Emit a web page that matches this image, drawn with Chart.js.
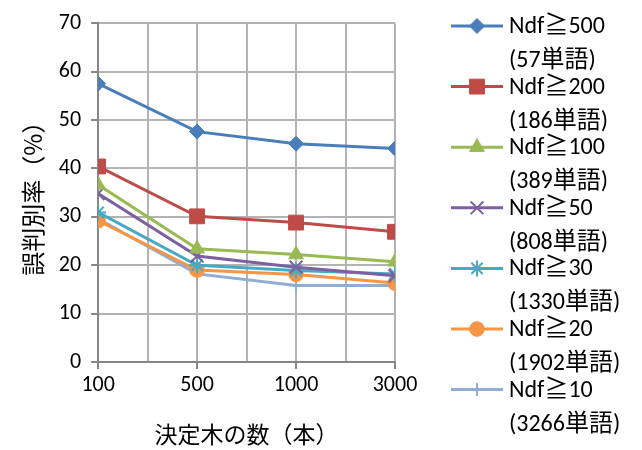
<!DOCTYPE html>
<html>
<head>
<meta charset="utf-8">
<script src="https://cdn.jsdelivr.net/npm/chart.js@4"></script>
<style>
  html, body { margin: 0; padding: 0; background: #fff; }
  #wrap { width: 642px; height: 450px; }
</style>
</head>
<body>
<div id="wrap"><canvas id="myChart" width="642" height="450"></canvas></div>
<script>
// categories (number of trees)
var categories = ['100', '500', '1000', '3000'];

// error rate (%) per Ndf threshold
var ndf500 = [57.5, 47.6, 45.1, 44.1];
var ndf200 = [40.4, 30.1, 28.8, 26.9];
var ndf100 = [36.6, 23.4, 22.2, 20.7];
var ndf50  = [34.8, 21.9, 19.6, 17.8];
var ndf30  = [30.9, 20.0, 18.9, 18.2];
var ndf20  = [29.2, 19.0, 18.1, 16.3];
var ndf10  = [29.6, 18.2, 15.8, 15.8];

var names = ['Ndf≧500', 'Ndf≧200', 'Ndf≧100', 'Ndf≧50', 'Ndf≧30', 'Ndf≧20', 'Ndf≧10'];
var wordCounts = ['(57単語)', '(186単語)', '(389単語)', '(808単語)', '(1330単語)', '(1902単語)', '(3266単語)'];
var yTicks = [0, 10, 20, 30, 40, 50, 60, 70];
var xGrid = [0, 0.5, 1, 1.5, 2, 2.5, 3];

var colors = ['#4a7ebb', '#be4b48', '#98b954', '#7d60a0', '#46aac5', '#f69544', '#91add3'];
var markers = ['rectRot', 'rect', 'triangle', 'crossRot', 'star', 'circle', 'cross'];
var radii = [7.5, 10.5, 8.5, 9, 8, 7.3, 6.5];
var thin = [false, false, false, true, true, false, true];
var series = [ndf500, ndf200, ndf100, ndf50, ndf30, ndf20, ndf10];

var latin = "Carlito, Lato, 'Noto Sans CJK JP', sans-serif";
var cjk = "'Noto Sans CJK JP', sans-serif";

var datasets = series.map(function(vals, i) {
    return {
        label: names[i],
        data: vals.map(function(v, j) { return { x: j, y: v }; }),
        borderColor: colors[i],
        backgroundColor: colors[i],
        borderWidth: 3,
        pointStyle: markers[i],
        pointRadius: radii[i],
        pointBorderWidth: thin[i] ? 2 : 1,
        pointBorderColor: colors[i],
        pointBackgroundColor: colors[i],
        tension: 0
    };
});

// legend drawn on the right, two lines per entry
var sideLegend = {
    id: 'sideLegend',
    afterDraw: function(chart) {
        var ctx = chart.ctx;
        ctx.save();
        ctx.font = '24px ' + latin;
        ctx.textBaseline = 'middle';
        ctx.textAlign = 'left';
        for (var i = 0; i < names.length; i++) {
            var y = 26 + i * 60.6;
            ctx.strokeStyle = colors[i];
            ctx.lineWidth = 3;
            ctx.beginPath();
            ctx.moveTo(451, y);
            ctx.lineTo(503, y);
            ctx.stroke();
            ctx.fillStyle = colors[i];
            ctx.lineWidth = thin[i] ? 2 : 1;
            Chart.helpers.drawPoint(ctx, {
                pointStyle: markers[i],
                radius: radii[i],
                rotation: 0,
                borderWidth: ctx.lineWidth
            }, 477, y);
            ctx.fillStyle = '#000';
            ctx.fillText(names[i], 509, y + 1);
            ctx.fillText(wordCounts[i], 509, y + 35);
        }
        ctx.restore();
    }
};

var ctx = document.getElementById('myChart').getContext('2d');
var myChart = new Chart(ctx, {
    type: 'line',
    data: { datasets: datasets },
    plugins: [sideLegend],
    options: {
        responsive: false,
        animation: false,
        layout: { padding: { top: 18, right: 247, left: 14, bottom: 2 } },
        plugins: {
            legend: { display: false },
            tooltip: { enabled: false }
        },
        scales: {
            x: {
                type: 'linear',
                min: 0,
                max: 3,
                afterBuildTicks: function(axis) {
                    axis.ticks = xGrid.map(function(v) { return { value: v }; });
                },
                ticks: {
                    autoSkip: false,
                    maxRotation: 0,
                    color: '#000',
                    font: { family: latin, size: 22 },
                    padding: 3,
                    callback: function(v) { return Number.isInteger(v) ? categories[v] : ' '; }
                },
                grid: {
                    color: '#b3b3b3',
                    lineWidth: 2,
                    tickLength: 7,
                    tickColor: function(c) { return Number.isInteger(c.tick.value) ? '#868686' : 'rgba(0,0,0,0)'; }
                },
                border: { color: '#868686', width: 2 },
                title: {
                    display: true,
                    text: '決定木の数（本）',
                    color: '#000',
                    font: { family: cjk, size: 23 },
                    padding: { top: 19, bottom: 0 }
                }
            },
            y: {
                min: 0,
                max: 70,
                afterBuildTicks: function(axis) {
                    axis.ticks = yTicks.map(function(v) { return { value: v }; });
                },
                ticks: {
                    color: '#000',
                    font: { family: latin, size: 22 },
                    padding: 10
                },
                grid: { color: '#b3b3b3', lineWidth: 2, tickLength: 7, tickColor: '#868686' },
                border: { color: '#868686', width: 2 },
                title: {
                    display: true,
                    text: '誤判別率（%）',
                    color: '#000',
                    font: { family: cjk, size: 24 },
                    padding: { bottom: 2 }
                }
            }
        }
    }
});
</script>
</body>
</html>
